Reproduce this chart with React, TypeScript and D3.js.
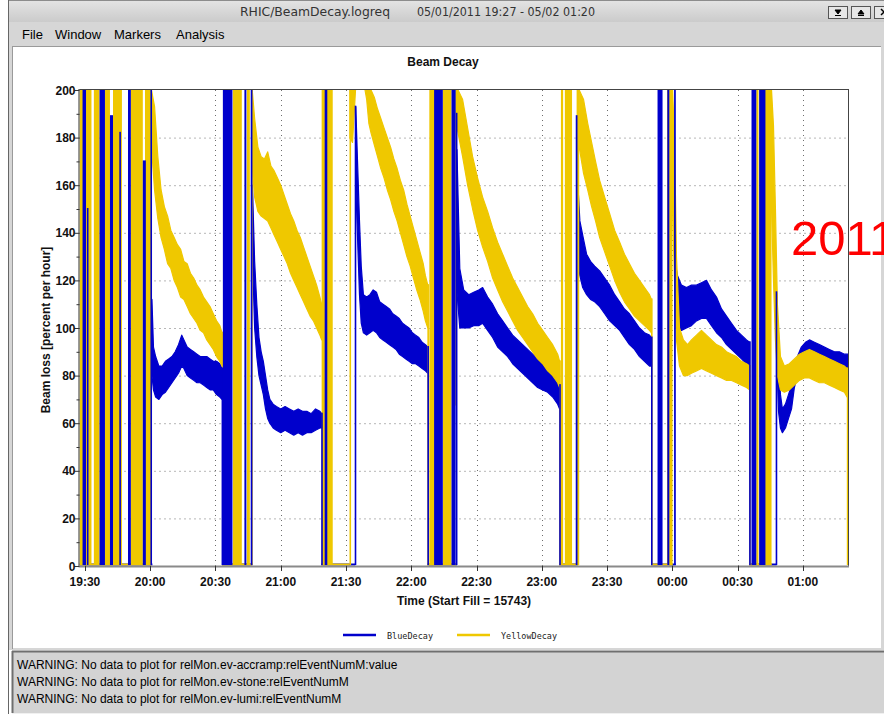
import { useEffect, useRef } from 'react';
import * as d3 from 'd3';

// samples: [minutes after 19:30, low, high] of the noisy decay band
type Sample = [number, number, number];
// [start min, end min, low, high] for the saturated spikes between fills
type Burst = [number, number, number, number];

const blueFills: Sample[][] = [
    [[30.8, 80, 112], [31.5, 74, 92], [32.5, 71, 88], [34, 70, 84], [35.5, 72, 84], [37, 73, 86], [38.5, 75, 87], [40, 77, 88], [41.5, 79, 90], [43, 81, 93], [44.5, 84, 97], [45.5, 83, 95], [47, 80, 92], [48.5, 79, 91], [50, 78, 90], [51.5, 77, 89], [53, 77, 88], [54.5, 76, 88], [56, 75, 88], [57.5, 74, 87], [59, 74, 86], [60.5, 72, 86], [62, 71, 85], [63, 70, 83]],
    [[77, 130, 160], [78, 100, 128], [79, 88, 110], [80, 80, 96], [81, 76, 90], [82, 72, 86], [83, 66, 80], [84, 62, 74], [85, 60, 70], [86.5, 58, 68], [88, 57, 67], [90, 56, 66], [92, 57, 67], [94, 56, 66], [96, 55, 65], [98, 56, 66], [100, 55, 65], [102, 56, 65], [104, 56, 64], [106, 57, 66], [108, 58, 65], [108.8, 58, 64]],
    [[124.5, 160, 193], [125.3, 138, 170], [126.2, 114, 145], [127, 102, 126], [128, 98, 114], [129.5, 97, 113], [131, 98, 114], [132.5, 99, 116], [134, 98, 115], [135.5, 96, 111], [137, 95, 110], [138.5, 94, 109], [140, 93, 108], [141.5, 92, 106], [143, 91, 105], [144.5, 89, 104], [146, 88, 102], [147.5, 87, 101], [149, 86, 100], [150.5, 85, 98], [152, 85, 97], [153.5, 84, 96], [155, 83, 94], [156.5, 82, 93], [157.6, 81, 92]],
    [[171, 115, 175], [172.3, 100, 125], [174.1, 100, 116], [176.4, 100, 114], [178.7, 101, 115], [181, 101, 116], [182.8, 102, 117], [185.1, 99, 113], [187.4, 96, 110], [189.7, 92, 106], [192, 90, 103], [194.3, 88, 100], [196.6, 85, 97], [198.9, 83, 95], [201.2, 81, 93], [203.5, 79, 91], [205.8, 77, 89], [208.1, 75, 87], [210.4, 74, 85], [212.7, 73, 83], [215, 71, 81], [217.3, 68, 78], [218.2, 66, 76]],
    [[226.6, 128, 160], [227.5, 122, 145], [228.8, 117, 139], [230.6, 114, 131], [232.4, 112, 128], [234.3, 111, 126], [236.6, 109, 124], [238.9, 106, 121], [241.2, 103, 118], [243.5, 101, 114], [245.8, 99, 111], [248, 96, 108], [250.3, 93, 106], [252.6, 91, 103], [254.9, 88, 100], [257.2, 86, 98], [259.5, 84, 97], [260.4, 84, 96]],
    [[271.8, 100, 125], [272.4, 100, 122], [274.2, 99, 118], [276.5, 100, 117], [278.8, 101, 118], [281.1, 103, 118], [283.4, 104, 119], [285.7, 104, 120], [288, 101, 116], [290.3, 98, 113], [292.6, 96, 108], [294.9, 93, 105], [297.2, 91, 102], [299.5, 89, 99], [301.8, 87, 97], [304.1, 85, 95], [305.5, 84, 94]],
    [[317.9, 90, 115], [318.8, 65, 85], [319.7, 58, 72], [320.6, 56, 66], [322, 58, 68], [323.4, 62, 72], [324.8, 66, 76], [326.1, 75, 82], [327.5, 80, 88], [329.3, 84, 92], [331.2, 86, 94], [333, 87, 95], [335.3, 87, 94], [337.6, 86, 93], [339.9, 85, 92], [342.2, 84, 91], [344.5, 84, 90], [346.8, 83, 90], [349.1, 83, 89], [350.8, 83, 89]],
];

const yellowFills: Sample[][] = [
    [[30.6, 176, 200], [32, 158, 193], [33.5, 146, 172], [35, 138, 158], [36.5, 133, 151], [38, 127, 147], [39.5, 125, 141], [41, 120, 138], [42.5, 117, 135], [44, 113, 133], [45.5, 112, 128], [47, 109, 127], [48.5, 106, 123], [50, 104, 121], [51.5, 102, 118], [53, 99, 116], [54.5, 98, 113], [56, 95, 111], [57.5, 93, 109], [59, 91, 106], [60.5, 88, 103], [62, 86, 101], [63, 84, 98]],
    [[76.9, 168, 200], [78, 155, 188], [79.5, 149, 176], [81, 147, 172], [82.5, 146, 171], [84, 145, 174], [85.5, 142, 168], [87, 139, 166], [88.5, 136, 163], [90, 133, 160], [91.5, 130, 156], [93, 127, 152], [94.5, 123, 148], [96, 120, 145], [97.5, 117, 141], [99, 114, 138], [100.5, 111, 134], [102, 108, 130], [103.5, 105, 126], [105, 103, 122], [106.5, 100, 118], [108, 97, 113], [108.8, 95, 110]],
    [[121.8, 180, 200], [123, 178, 200], [124.5, 202, 220], [126, 206, 222], [128, 204, 220], [129.5, 196, 214], [130.5, 186, 206], [131.5, 182, 200], [133, 177, 197], [134.5, 172, 192], [136, 167, 188], [137.5, 163, 184], [139, 158, 180], [140.5, 154, 176], [142, 149, 171], [143.5, 145, 167], [145, 140, 162], [146.5, 135, 158], [148, 130, 152], [149.5, 126, 147], [151, 121, 142], [152.5, 116, 137], [154, 112, 132], [155.5, 107, 127], [156.5, 103, 122], [157.6, 100, 118]],
    [[170.8, 185, 200], [171.5, 182, 200], [173.6, 172, 196], [175.9, 160, 184], [178.2, 150, 172], [180.5, 141, 163], [182.8, 134, 155], [185.1, 128, 149], [187.4, 121, 142], [189.7, 116, 136], [192, 111, 131], [194.3, 107, 126], [196.6, 103, 121], [198.9, 99, 117], [201.2, 96, 113], [203.5, 93, 109], [205.8, 90, 106], [208.1, 87, 102], [210.4, 85, 99], [212.7, 82, 96], [215, 80, 93], [217.3, 77, 89], [218.2, 75, 86]],
    [[227.2, 176, 200], [229.2, 165, 196], [231.1, 158, 186], [232.9, 151, 178], [234.7, 145, 170], [236.6, 138, 162], [238.9, 132, 155], [241.2, 126, 148], [243.5, 120, 141], [245.8, 115, 136], [248, 111, 131], [250.3, 108, 127], [252.6, 105, 123], [254.9, 103, 120], [257.2, 101, 117], [259.5, 99, 114], [260.4, 98, 112]],
    [[270.1, 150, 200], [271, 120, 180], [271.9, 95, 130], [273.3, 84, 100], [275.1, 80, 95], [277, 80, 93], [278.8, 81, 95], [281.1, 82, 97], [283.4, 83, 99], [285.7, 82, 97], [288, 81, 95], [290.3, 80, 93], [292.6, 79, 92], [294.9, 78, 90], [297.2, 78, 89], [299.5, 77, 88], [301.8, 76, 86], [304.1, 75, 85], [305.5, 74, 84]],
    [[315.6, 150, 200], [316.5, 120, 185], [317.4, 95, 150], [318.3, 80, 110], [319.7, 74, 88], [321.5, 73, 84], [323.8, 74, 85], [326.1, 76, 87], [328.4, 78, 89], [330.7, 79, 90], [333, 79, 91], [335.3, 78, 90], [337.6, 77, 89], [339.9, 77, 88], [342.2, 76, 87], [344.5, 75, 86], [346.8, 74, 85], [349.1, 73, 84], [350.3, 71, 83]],
];

const yellowBursts: Burst[] = [
    [-2.5, -0.9, 0, 200], [0.5, 3.0, 0, 200], [4.1, 6.7, 0, 200], [9.2, 11.5, 0, 200], [12.9, 17.0, 0, 200], [21.1, 26.6, 0, 200], [27.6, 30.6, 0, 200],
    [63, 63.4, 0, 98], [68.0, 72.1, 0, 200], [74.4, 75.8, 0, 200], [76.4, 77.0, 0, 200],
    [108.8, 113.9, 0, 200], [121.6, 122.0, 0, 200],
    [157.4, 157.8, 0, 118], [158.3, 161, 0, 200], [164.5, 168.5, 0, 200], [170.2, 170.8, 67, 200],
    [218.0, 218.4, 0, 86], [218.8, 219.8, 0, 200], [220.6, 223.9, 0, 200], [226.0, 227.2, 0, 200],
    [260.2, 260.6, 0, 112], [267.6, 270.1, 0, 200],
    [305.3, 305.7, 0, 84], [308.6, 309.6, 0, 200], [311.0, 315.6, 0, 200],
    [350.2, 350.5, 0, 83],
];

const blueBursts: Burst[] = [
    [-1.1, 0.5, 0, 200], [0.9, 1.4, 0, 150], [6.7, 9.2, 0, 200], [11.5, 12.9, 0, 189], [15.8, 16.4, 0, 182], [19.8, 21.1, 0, 200], [26.6, 28.0, 0, 170], [30.1, 30.8, 0, 200],
    [62.8, 63.3, 0, 83], [63.4, 67.8, 0, 200], [73.3, 74.2, 0, 200], [76.2, 77.0, 0, 200],
    [108.6, 109.0, 0, 64], [110.2, 111.4, 0, 200], [124.0, 124.6, 0, 193],
    [157.4, 157.9, 0, 92], [160.5, 164.5, 0, 200], [168.5, 170.4, 0, 200], [170.5, 171.0, 0, 190],
    [218.0, 218.4, 0, 76], [225.6, 226.4, 0, 189],
    [260.2, 260.6, 0, 96], [263.2, 265.5, 0, 200], [267.7, 268.6, 0, 200], [270.8, 271.6, 0, 200],
    [305.3, 305.7, 0, 94], [306.4, 308.6, 0, 200], [309.9, 312.8, 0, 200], [317.5, 318.1, 0, 115],
];

// stretches where the signal sits on zero
const yellowZero: [number, number][] = [[-2.5, 30.6], [63, 77], [108.8, 121.7], [157.4, 170.5], [218, 227], [260.2, 270.1], [305.3, 315.6]];
const blueZero: [number, number][] = [[-2.5, 31], [63, 77], [108.6, 124.3], [157.4, 171], [218, 226.5], [260.2, 271.6], [305.3, 318]];

const yTicks = [0, 20, 40, 60, 80, 100, 120, 140, 160, 180, 200];
const yMinor = [10, 30, 50, 70, 90, 110, 130, 150, 170, 190];
const xTickLabels = ['19:30', '20:00', '20:30', '21:00', '21:30', '22:00', '22:30', '23:00', '23:30', '00:00', '00:30', '01:00'];

const warnings = [
    'WARNING: No data to plot for relMon.ev-accramp:relEventNumM:value',
    'WARNING: No data to plot for relMon.ev-stone:relEventNumM',
    'WARNING: No data to plot for relMon.ev-lumi:relEventNumM',
];
const menuItems: [string, number][] = [['File', 22], ['Window', 55], ['Markers', 114], ['Analysis', 176]];

const BLUE = '#0000cc';
const YELLOW = '#efc800';
const BASE = new Date(2011, 4, 1, 19, 30).getTime();
const at = (m: number) => new Date(BASE + m * 60000);

export default function App() {
    const svgRef = useRef<SVGSVGElement>(null);
    const width = 884;
    const height = 714;

    useEffect(() => {
        if (!svgRef.current) return;
        const svg = d3.select(svgRef.current);
        svg.selectAll('*').remove();

        const left = 79.5, right = 848, top = 90, bottom = 566;
        const x = d3.scaleTime().domain([at(-2.5), at(350.75)]).range([left, right]);
        const y = d3.scaleLinear().domain([0, 200]).range([bottom, top]);
        const sans = 'Liberation Sans, Arial, Helvetica, sans-serif';

        // window chrome
        svg.append('rect').attr('width', width).attr('height', height).attr('fill', '#ffffff');
        const grad = svg.append('defs').append('linearGradient').attr('id', 'tb').attr('x1', 0).attr('x2', 0).attr('y1', 0).attr('y2', 1);
        grad.append('stop').attr('offset', '0%').attr('stop-color', '#e4e4e4');
        grad.append('stop').attr('offset', '100%').attr('stop-color', '#cbcbcb');
        svg.append('rect').attr('x', 8).attr('y', 0).attr('width', width - 8).attr('height', 22).attr('fill', 'url(#tb)');
        svg.append('line').attr('x1', 8).attr('x2', width).attr('y1', 0.5).attr('y2', 0.5).attr('stroke', '#8c8c8c');
        svg.append('text').attr('x', 240).attr('y', 16).attr('font-family', 'DejaVu Sans Condensed, Liberation Sans Narrow, sans-serif')
            .attr('font-size', 12).attr('fill', '#333').attr('textLength', 150).attr('lengthAdjust', 'spacingAndGlyphs').text('RHIC/BeamDecay.logreq');
        svg.append('text').attr('x', 417).attr('y', 16).attr('font-family', 'DejaVu Sans Condensed, Liberation Sans Narrow, sans-serif')
            .attr('font-size', 12).attr('fill', '#333').attr('textLength', 178).attr('lengthAdjust', 'spacingAndGlyphs').text('05/01/2011 19:27 - 05/02 01:20');
        [828, 851, 874].forEach((bx, i) => {
            svg.append('rect').attr('x', bx + 0.5).attr('y', 6.5).attr('width', 19).attr('height', 12).attr('fill', '#e6e6e6').attr('stroke', '#555');
            const cx = bx + 10;
            if (i === 0) {
                svg.append('path').attr('d', `M${cx - 3},10 h6 l-3,4 z M${cx - 3},15.5 h6`).attr('fill', '#000').attr('stroke', '#000').attr('stroke-width', 1);
            } else if (i === 1) {
                svg.append('path').attr('d', `M${cx - 3},14 h6 l-3,-4 z M${cx - 3},15.5 h6`).attr('fill', '#000').attr('stroke', '#000').attr('stroke-width', 1);
            } else {
                svg.append('path').attr('d', `M${cx - 3},9 l6,6 M${cx + 3},9 l-6,6`).attr('stroke', '#000').attr('stroke-width', 1.5);
            }
        });

        svg.append('rect').attr('x', 8).attr('y', 22).attr('width', width - 8).attr('height', 628).attr('fill', '#d6d6d6');
        menuItems.forEach(([label, mx]) => {
            svg.append('text').attr('x', mx).attr('y', 39).attr('font-family', sans).attr('font-size', 13).attr('fill', '#000').text(label);
        });
        svg.append('line').attr('x1', 8.5).attr('x2', 8.5).attr('y1', 0).attr('y2', height).attr('stroke', '#666');
        svg.append('line').attr('x1', 12).attr('x2', 881).attr('y1', 46.5).attr('y2', 46.5).attr('stroke', '#9a9a9a');
        svg.append('rect').attr('x', 13).attr('y', 47).attr('width', 868).attr('height', 601).attr('fill', '#ffffff');
        svg.append('line').attr('x1', 12.5).attr('x2', 12.5).attr('y1', 46).attr('y2', 649).attr('stroke', '#9a9a9a');

        // grid
        const xTicks = x.ticks(d3.timeMinute.every(30)!);
        svg.append('g').selectAll('line').data(yTicks.slice(1, -1)).enter().append('line')
            .attr('x1', left).attr('x2', right).attr('y1', d => y(d) + 0.5).attr('y2', d => y(d) + 0.5)
            .attr('stroke', '#6e6e6e').attr('stroke-dasharray', '1,4');
        svg.append('g').selectAll('line').data(xTicks).enter().append('line')
            .attr('x1', d => Math.round(x(d)) + 0.5).attr('x2', d => Math.round(x(d)) + 0.5).attr('y1', top).attr('y2', bottom)
            .attr('stroke', '#6e6e6e').attr('stroke-dasharray', '1,4');

        // data
        svg.append('clipPath').attr('id', 'plot').append('rect')
            .attr('x', left).attr('y', top - 1).attr('width', right - left).attr('height', bottom - top + 1);
        const plot = svg.append('g').attr('clip-path', 'url(#plot)');

        const area = d3.area<Sample>()
            .x(d => x(at(d[0])))
            .y0(d => y(d[1]))
            .y1(d => y(d[2]));

        const drawZero = (segs: [number, number][], color: string) => {
            plot.append('g').selectAll('line').data(segs).enter().append('line')
                .attr('x1', d => x(at(d[0]))).attr('x2', d => x(at(d[1])))
                .attr('y1', bottom - 1.5).attr('y2', bottom - 1.5)
                .attr('stroke', color).attr('stroke-width', 2);
        };
        const drawBands = (fills: Sample[][], color: string) => {
            plot.append('g').selectAll('path').data(fills).enter().append('path')
                .attr('d', d => area(d))
                .attr('fill', color).attr('stroke', color).attr('stroke-width', 1.2).attr('stroke-linejoin', 'round');
        };
        const drawBursts = (bursts: Burst[], color: string) => {
            plot.append('g').selectAll('rect').data(bursts).enter().append('rect')
                .attr('x', d => x(at(d[0])))
                .attr('width', d => Math.max(1.6, x(at(d[1])) - x(at(d[0]))))
                .attr('y', d => y(d[3]) - 1)
                .attr('height', d => y(d[2]) - y(d[3]))
                .attr('fill', color);
        };

        drawZero(blueZero, BLUE);
        drawZero(yellowZero, YELLOW);
        drawBands(blueFills, BLUE);
        drawBands(yellowFills, YELLOW);
        drawBursts(yellowBursts, YELLOW);
        drawBursts(blueBursts, BLUE);

        // frame
        svg.append('line').attr('x1', left).attr('x2', right).attr('y1', top - 0.5).attr('y2', top - 0.5).attr('stroke', '#444');
        svg.append('line').attr('x1', right + 0.5).attr('x2', right + 0.5).attr('y1', top - 1).attr('y2', bottom).attr('stroke', '#444');
        svg.append('line').attr('x1', left - 0.5).attr('x2', left - 0.5).attr('y1', top - 1).attr('y2', bottom + 1).attr('stroke', '#333');
        svg.append('line').attr('x1', left - 1).attr('x2', right + 1).attr('y1', bottom + 0.5).attr('y2', bottom + 0.5).attr('stroke', '#8a8a8a').attr('stroke-width', 2);

        // y axis
        const yAxis = svg.append('g');
        yAxis.selectAll('line.major').data(yTicks).enter().append('line')
            .attr('x1', left - 5).attr('x2', left).attr('y1', d => y(d) + 0.5).attr('y2', d => y(d) + 0.5).attr('stroke', '#333');
        yAxis.selectAll('line.minor').data(yMinor).enter().append('line')
            .attr('x1', left - 3).attr('x2', left).attr('y1', d => y(d) + 0.5).attr('y2', d => y(d) + 0.5).attr('stroke', '#333');
        yAxis.selectAll('text').data(yTicks).enter().append('text')
            .attr('x', left - 4).attr('y', d => y(d) + 4.5).attr('text-anchor', 'end')
            .attr('font-family', sans).attr('font-size', 12).attr('font-weight', 'bold').attr('fill', '#111')
            .text(d => String(d));

        // x axis
        const xAxis = svg.append('g');
        xAxis.selectAll('line').data(xTicks).enter().append('line')
            .attr('x1', d => Math.round(x(d)) + 0.5).attr('x2', d => Math.round(x(d)) + 0.5)
            .attr('y1', bottom).attr('y2', bottom + 5).attr('stroke', '#333');
        xAxis.selectAll('text').data(xTicks).enter().append('text')
            .attr('x', d => x(d)).attr('y', 586).attr('text-anchor', 'middle')
            .attr('font-family', sans).attr('font-size', 12).attr('font-weight', 'bold').attr('fill', '#111')
            .text((_d, i) => xTickLabels[i] ?? '');

        // titles
        svg.append('text').attr('x', 443).attr('y', 66).attr('text-anchor', 'middle')
            .attr('font-family', sans).attr('font-size', 12).attr('font-weight', 'bold').attr('fill', '#111').text('Beam Decay');
        svg.append('text').attr('x', 464).attr('y', 605).attr('text-anchor', 'middle')
            .attr('font-family', sans).attr('font-size', 12).attr('font-weight', 'bold').attr('fill', '#111').text('Time (Start Fill = 15743)');
        svg.append('text').attr('transform', 'translate(50,330) rotate(-90)').attr('text-anchor', 'middle')
            .attr('font-family', sans).attr('font-size', 12).attr('font-weight', 'bold').attr('fill', '#111').text('Beam loss [percent per hour]');

        // legend
        const legend = [
            { label: 'BlueDecay', color: BLUE, x: 343, w: 46 },
            { label: 'YellowDecay', color: YELLOW, x: 457, w: 56 },
        ];
        legend.forEach(l => {
            svg.append('line').attr('x1', l.x).attr('x2', l.x + 33).attr('y1', 635).attr('y2', 635)
                .attr('stroke', l.color).attr('stroke-width', 2.5);
            svg.append('text').attr('x', l.x + 44).attr('y', 639)
                .attr('font-family', 'DejaVu Sans Mono, Liberation Mono, monospace').attr('font-size', 9.5).attr('fill', '#222')
                .attr('textLength', l.w).attr('lengthAdjust', 'spacingAndGlyphs').text(l.label);
        });

        // warning panel
        svg.append('rect').attr('x', 12).attr('y', 651).attr('width', width - 12).attr('height', 62).attr('fill', '#d3d3d3');
        svg.append('line').attr('x1', 12).attr('x2', width).attr('y1', 651.5).attr('y2', 651.5).attr('stroke', '#6f6f6f').attr('stroke-width', 2);
        svg.append('line').attr('x1', 12.5).attr('x2', 12.5).attr('y1', 651).attr('y2', 713).attr('stroke', '#6f6f6f').attr('stroke-width', 2);
        svg.append('line').attr('x1', 12).attr('x2', width).attr('y1', 713.5).attr('y2', 713.5).attr('stroke', '#f0f0f0');
        warnings.forEach((w, i) => {
            svg.append('text').attr('x', 17).attr('y', 669 + i * 17)
                .attr('font-family', sans).attr('font-size', 12).attr('fill', '#000').text(w);
        });

        // overlay annotation, cut by the right edge as in the screenshot
        svg.append('text').attr('x', 791).attr('y', 255)
            .attr('font-family', sans).attr('font-size', 49).attr('fill', '#ff0000').text('2011');
    }, []);

    return (
        <>
            <style>{'body{margin:0}'}</style>
            <svg ref={svgRef} width={width} height={height} style={{ display: 'block' }} />
        </>
    );
}
